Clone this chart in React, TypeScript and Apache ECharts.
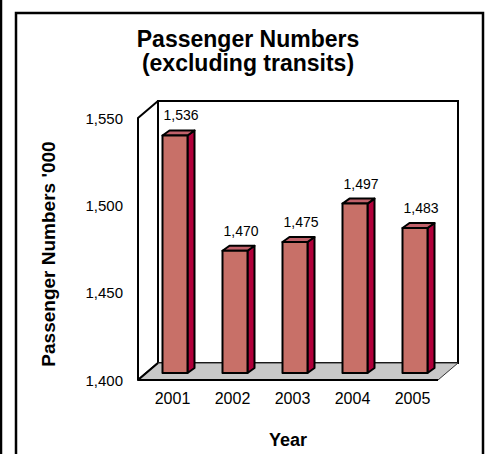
import React, { useEffect, useRef } from "react";
import * as echarts from "echarts";

const years = ["2001", "2002", "2003", "2004", "2005"];
const passengers = [1536, 1470, 1475, 1497, 1483];
const yMin = 1400;
const yMax = 1550;
const yStep = 50;

const FONT = "'Liberation Sans', Arial, Helvetica, sans-serif";
const DEPTH_X = 20;
const DEPTH_Y = -17;

const fmt = (v: number) => v.toLocaleString("en-US");

export default function App() {
  const ref = useRef<HTMLDivElement>(null);
  useEffect(() => {
    document.body.style.margin = "0";
    const chart = echarts.init(ref.current!, null, { renderer: "svg" });
    const option: any = {
      animation: false,
      backgroundColor: "#ffffff",
      textStyle: { fontFamily: FONT },
      grid: { left: 138, top: 118, width: 300, height: 262 },
      xAxis: {
        type: "category",
        data: years,
        boundaryGap: true,
        axisLine: { show: false },
        axisTick: { show: false },
        axisLabel: {
          margin: 10,
          fontSize: 16,
          color: "#000",
          fontFamily: FONT,
          padding: [0, 0, 0, 9],
        },
        name: "Year",
        nameLocation: "middle",
        nameGap: 51,
        nameTextStyle: { fontSize: 18, fontWeight: "bold", color: "#000", fontFamily: FONT },
      },
      yAxis: {
        type: "value",
        min: yMin,
        max: yMax,
        interval: yStep,
        splitLine: { show: false },
        axisLine: { show: false },
        axisTick: { show: false },
        axisLabel: {
          margin: 15,
          fontSize: 15,
          color: "#000",
          fontFamily: FONT,
          formatter: (v: number) => fmt(v),
        },
        name: "Passenger Numbers '000",
        nameLocation: "middle",
        nameRotate: 90,
        nameGap: 80,
        nameTextStyle: {
          fontSize: 19,
          fontWeight: "bold",
          color: "#000",
          fontFamily: FONT,
          padding: [0, 10, 0, 0],
        },
      },
      graphic: [
        {
          type: "rect",
          shape: { x: 16, y: 13, width: 467, height: 470 },
          style: { fill: "none", stroke: "#000", lineWidth: 2.5 },
          z: 100,
        },
        {
          type: "line",
          shape: { x1: 1, y1: 0, x2: 1, y2: 454 },
          style: { stroke: "#000", lineWidth: 2.5 },
          z: 100,
        },
        {
          type: "text",
          x: 248,
          y: 39,
          style: {
            text: "Passenger Numbers",
            fontSize: 23,
            fontWeight: "bold",
            fontFamily: FONT,
            fill: "#000",
            align: "center",
            verticalAlign: "middle",
          },
        },
        {
          type: "text",
          x: 248,
          y: 63,
          style: {
            text: "(excluding transits)",
            fontSize: 23,
            fontWeight: "bold",
            fontFamily: FONT,
            fill: "#000",
            align: "center",
            verticalAlign: "middle",
          },
        },
      ],
      series: [
        {
          type: "custom",
          name: "walls",
          data: [[0, yMin]],
          silent: true,
          z: 1,
          renderItem: (params: any, api: any) => {
            const cs = params.coordSys;
            const x = cs.x, y = cs.y, w = cs.width, h = cs.height;
            return {
              type: "group",
              children: [
                {
                  type: "rect",
                  shape: { x: x + DEPTH_X, y: y + DEPTH_Y, width: w, height: h },
                  style: { fill: "#fff", stroke: "#000", lineWidth: 2 },
                },
                {
                  type: "polygon",
                  shape: {
                    points: [
                      [x, y + h],
                      [x, y],
                      [x + DEPTH_X, y + DEPTH_Y],
                      [x + DEPTH_X, y + h + DEPTH_Y],
                    ],
                  },
                  style: { fill: "#fff", stroke: "#000", lineWidth: 2, lineJoin: "round" },
                },
                {
                  type: "polygon",
                  shape: {
                    points: [
                      [x, y + h],
                      [x + DEPTH_X, y + h + DEPTH_Y],
                      [x + w + DEPTH_X, y + h + DEPTH_Y],
                      [x + w, y + h],
                    ],
                  },
                  style: { fill: "#c8c8c8", stroke: "#333", lineWidth: 1 },
                },
                {
                  type: "line",
                  shape: { x1: x, y1: y + h, x2: x + w, y2: y + h },
                  style: { stroke: "#000", lineWidth: 2 },
                },
                {
                  type: "line",
                  shape: { x1: x, y1: y + h, x2: x + DEPTH_X, y2: y + h + DEPTH_Y },
                  style: { stroke: "#000", lineWidth: 2 },
                },
              ],
            };
          },
        },
        {
          type: "custom",
          name: "Passengers",
          data: passengers.map((v, i) => [i, v]),
          z: 2,
          renderItem: (params: any, api: any) => {
            const idx = api.value(0);
            const val = api.value(1);
            const top = api.coord([idx, val]);
            const base = api.coord([idx, yMin]);
            const sx = 7, sy = -7;
            const bw = 25, dx = 7, dy = -5;
            const x0 = top[0] + sx - bw / 2;
            const x1 = x0 + bw;
            const t = top[1] + sy;
            const b = base[1] + sy;
            const line = { stroke: "#000", lineWidth: 2, lineJoin: "round" };
            return {
              type: "group",
              children: [
                {
                  type: "polygon",
                  shape: { points: [[x1, t], [x1 + dx, t + dy], [x1 + dx, b + dy], [x1, b]] },
                  style: { fill: "#b0003a", ...line },
                },
                {
                  type: "polygon",
                  shape: { points: [[x0, t], [x0 + dx, t + dy], [x1 + dx, t + dy], [x1, t]] },
                  style: { fill: "#c0616a", ...line },
                },
                {
                  type: "rect",
                  shape: { x: x0, y: t, width: bw, height: b - t },
                  style: { fill: "#c87068", ...line },
                },
                {
                  type: "text",
                  x: x0 + bw / 2 + 6,
                  y: t - 20,
                  style: {
                    text: fmt(val),
                    fontSize: 14,
                    fontFamily: FONT,
                    fill: "#000",
                    align: "center",
                    verticalAlign: "middle",
                  },
                },
              ],
            };
          },
        },
      ],
    };
    chart.setOption(option);
    return () => chart.dispose();
  }, []);
  return <div ref={ref} style={{ width: 488, height: 454 }} />;
}
